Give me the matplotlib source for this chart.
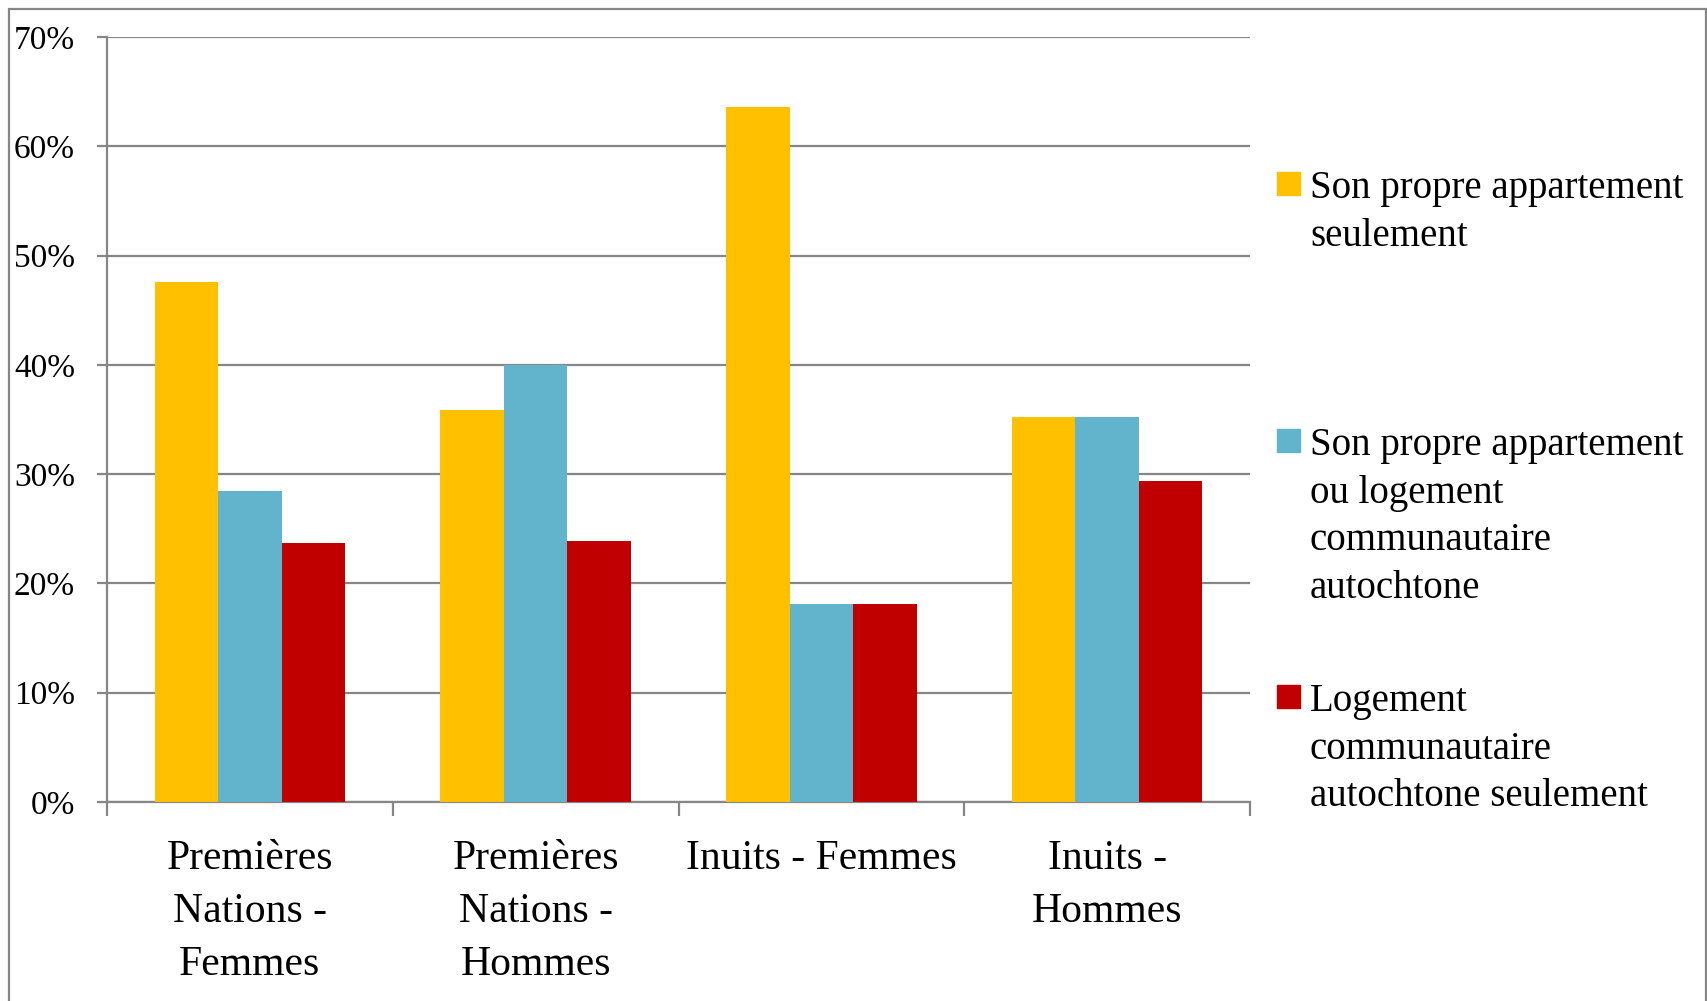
import numpy as np
import matplotlib
matplotlib.use("Agg")
import matplotlib.pyplot as plt
from matplotlib.patches import Rectangle
from matplotlib.ticker import PercentFormatter

categories = ["Premières\nNations -\nFemmes", "Premières\nNations -\nHommes",
              "Inuits - Femmes", "Inuits -\nHommes"]
series_names = ["Son propre appartement\nseulement",
                "Son propre appartement\nou logement\ncommunautaire\nautochtone",
                "Logement\ncommunautaire\nautochtone seulement"]
propre_seul = [47.6, 35.9, 63.6, 35.2]
propre_ou_comm = [28.5, 40.0, 18.1, 35.2]
comm_seul = [23.7, 23.9, 18.1, 29.4]
colors = ["#FFC000", "#62B3CC", "#C00000"]
yticks = [0, 10, 20, 30, 40, 50, 60, 70]

plt.rcParams['font.family'] = ['Liberation Serif', 'DejaVu Serif']
GRID = '#868686'

fig = plt.figure(figsize=(17.08, 10.01), dpi=100)
ax = fig.add_axes([107 / 1708, 1 - 802 / 1001, (1250 - 107) / 1708, (802 - 37) / 1001])

x = np.arange(len(categories))
w = 1 / 4.5
for i, vals in enumerate([propre_seul, propre_ou_comm, comm_seul]):
    ax.bar(x + (i - 1) * w, vals, w, color=colors[i], zorder=3)

ax.set_xlim(-0.5, len(categories) - 0.5)
ax.set_ylim(0, 70)
ax.set_yticks(yticks)
ax.yaxis.set_major_formatter(PercentFormatter(decimals=0))
ax.grid(axis='y', color=GRID, linewidth=1.6, zorder=0)

ax.set_xticks(x)
ax.set_xticklabels(categories, fontsize=30, linespacing=1.49)
ax.set_xticks(np.arange(len(categories) + 1) - 0.5, minor=True)
ax.tick_params(axis='x', which='major', length=0, pad=27)
ax.tick_params(axis='x', which='minor', length=10, width=1.6, color=GRID)
ax.tick_params(axis='y', length=7, width=1.6, color=GRID, labelsize=24, pad=16)

for s in ['top', 'right']:
    ax.spines[s].set_visible(False)
for s in ['left', 'bottom']:
    ax.spines[s].set_color(GRID)
    ax.spines[s].set_linewidth(1.6)

# legend, entries evenly spaced like the original
leg_y = [184, 441, 697]
for i, name in enumerate(series_names):
    yc = 1 - leg_y[i] / 1001
    fig.patches.append(Rectangle((1277 / 1708, yc - 11 / 1001), 23 / 1708, 23 / 1001,
                                 transform=fig.transFigure, color=colors[i]))
    fig.text(1310 / 1708, yc + 14 / 1001, name, fontsize=28, va='top', ha='left',
             linespacing=1.38)

# outer chart border
fig.patches.append(Rectangle((9 / 1708, -0.05), (1706 - 9) / 1708, 1.05 - 9 / 1001,
                             transform=fig.transFigure, fill=False,
                             edgecolor=GRID, linewidth=1.6))

fig.savefig("out.png", dpi=100)
